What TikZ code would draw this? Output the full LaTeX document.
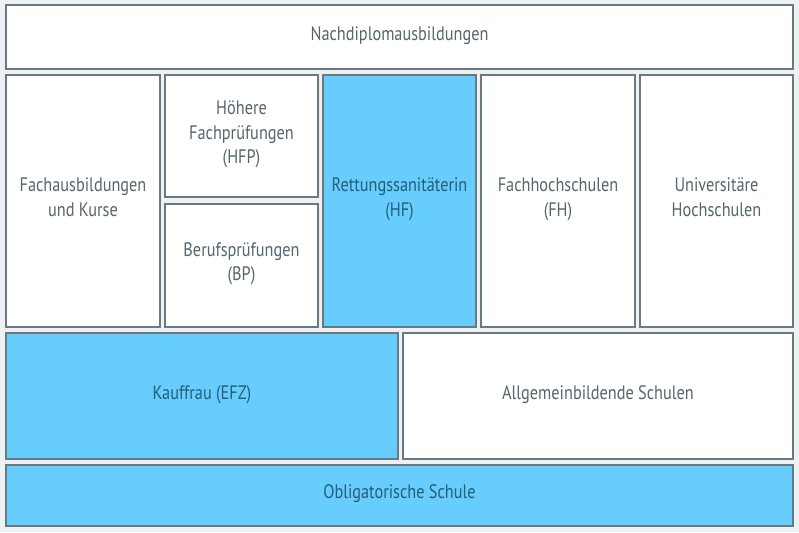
\documentclass[tikz,border=0pt]{standalone}
\usepackage{fontspec}
\setmainfont[FakeStretch=0.835]{PT Sans}
\definecolor{skyfill}{RGB}{102,205,252}
\definecolor{framegray}{RGB}{104,121,128}
\definecolor{textgray}{RGB}{86,101,110}
\definecolor{textblue}{RGB}{40,92,120}
\definecolor{paper}{RGB}{238,241,243}

\begin{document}
\begin{tikzpicture}[x=1pt, y=-1pt,
        whitebox/.style={shape=rectangle, fill=white, draw=framegray, line width=1.8pt,
          align=center, text=textgray, font=\fontsize{19.5}{24.5}\selectfont,
          text depth=7.5pt, inner sep=0pt, outer sep=0pt},
        bluebox/.style={whitebox, fill=skyfill, text=textblue}]
        \useasboundingbox[fill=paper] (0,0) rectangle (799,532);
        % Top row
        \node[whitebox, minimum width=787pt, minimum height=64pt] (nds) at (399.5,37) {Nachdiplomausbildungen};
        % Middle row
        \node[whitebox, minimum width=154pt, minimum height=252pt] (fach) at (83,201) {Fachausbildungen\\und Kurse};
        \node[whitebox, minimum width=153pt, minimum height=122pt] (hfp) at (241.5,136) {Höhere\\Fachprüfungen\\(HFP)};
        \node[whitebox, minimum width=153pt, minimum height=123pt] (bp) at (241.5,265.5) {Berufsprüfungen\\(BP)};
        \node[bluebox, minimum width=153pt, minimum height=252pt] (hf) at (399.5,201) {Rettungssanitäterin\\(HF)};
        \node[whitebox, minimum width=154pt, minimum height=252pt] (fh) at (558,201) {Fachhochschulen\\(FH)};
        \node[whitebox, minimum width=153pt, minimum height=252pt] (uni) at (716.5,201) {Universitäre\\Hochschulen};
        % Lower row
        \node[bluebox, minimum width=392pt, minimum height=126pt] (efz) at (202,396) {Kauffrau (EFZ)};
        \node[whitebox, minimum width=390pt, minimum height=126pt] (allg) at (598,396) {Allgemeinbildende Schulen};
        % Bottom row
        \node[bluebox, minimum width=787pt, minimum height=61pt] (obl) at (399.5,495.5) {Obligatorische Schule};
\end{tikzpicture}
\end{document}
